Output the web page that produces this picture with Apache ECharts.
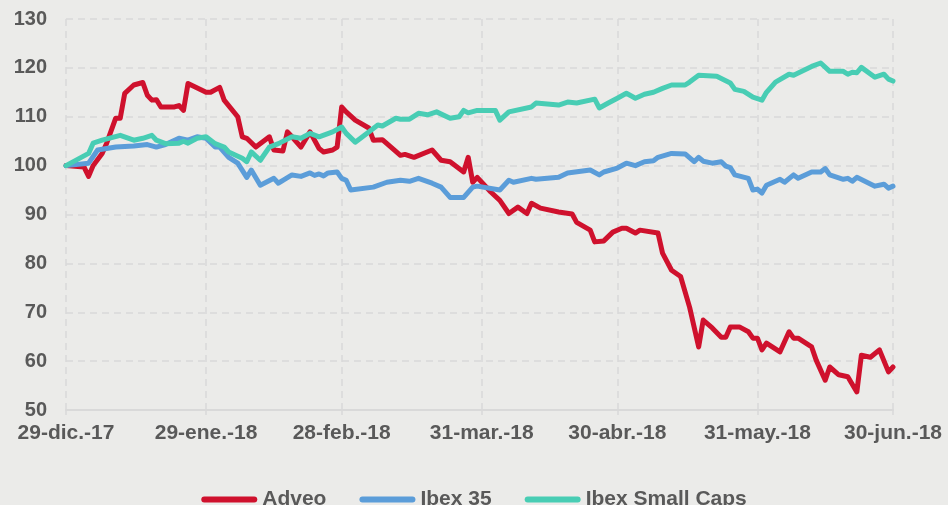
<!DOCTYPE html>
<html>
<head>
<meta charset="utf-8">
<script src="https://cdn.jsdelivr.net/npm/echarts@6/dist/echarts.min.js"></script>
<style>
  html, body { margin: 0; padding: 0; background: #ebebe9; }
  #main { width: 948px; height: 505px; }
</style>
</head>
<body>
<div id="main"></div>
<script>
  // días contados desde 29-dic.-17
  var totalDays = 183
  var tickDays = [0, 31, 61, 92, 122, 153, 183]
  var tickLabels = ['29-dic.-17', '29-ene.-18', '28-feb.-18', '31-mar.-18', '30-abr.-18', '31-may.-18', '30-jun.-18']

  var adveoDays = [0, 4, 5, 6, 8, 9, 11, 12, 13, 15, 17, 18, 19, 20, 21, 24, 25, 26, 27, 31, 32, 34, 35, 38, 39, 40, 42, 45, 46, 48, 49, 50, 52, 54, 56, 57, 59, 60, 61, 62, 64, 67, 68, 70, 74, 75, 77, 81, 83, 85, 88, 89, 90, 91, 94, 96, 98, 100, 102, 103, 105, 109, 112, 113, 116, 117, 119, 121, 123, 124, 126, 127, 131, 132, 134, 136, 138, 140, 141, 143, 145, 146, 147, 149, 151, 152, 153, 154, 155, 158, 160, 161, 162, 165, 166, 168, 169, 171, 173, 175, 176, 178, 180, 182, 183]
  var adveoValues = [100, 99.7, 97.8, 100, 102.5, 104.6, 109.7, 109.7, 114.8, 116.5, 117, 114.4, 113.4, 113.5, 112, 112, 112.3, 111.3, 116.8, 115, 115, 116, 113.4, 110, 105.9, 105.6, 103.8, 105.9, 103.2, 103, 106.9, 105.9, 103.8, 106.9, 103.5, 102.8, 103.2, 103.8, 112, 111, 109.3, 107.7, 105.2, 105.3, 102.1, 102.3, 101.7, 103.2, 101.1, 100.8, 98.7, 101.7, 96.6, 97.6, 94.6, 92.9, 90.2, 91.5, 90.2, 92.3, 91.3, 90.5, 90.1, 88.4, 86.8, 84.4, 84.6, 86.4, 87.2, 87.2, 86.2, 86.8, 86.2, 82.1, 78.6, 77.3, 71, 62.9, 68.4, 66.8, 64.9, 64.9, 67, 67, 66, 64.7, 64.7, 62.3, 63.7, 61.9, 66, 64.7, 64.7, 62.9, 60.2, 56.1, 58.8, 57.2, 56.8, 53.7, 61.2, 60.8, 62.3, 57.8, 58.8]

  var ibexDays = [0, 5, 7, 11, 15, 18, 20, 22, 25, 27, 29, 31, 33, 34, 36, 38, 40, 41, 43, 46, 47, 48, 50, 52, 54, 55, 56, 57, 58, 60, 61, 62, 63, 68, 71, 74, 76, 78, 81, 83, 85, 88, 90, 91, 96, 98, 99, 103, 104, 109, 111, 116, 118, 119, 122, 124, 126, 128, 130, 131, 134, 137, 139, 140, 141, 143, 145, 146, 147, 148, 151, 152, 153, 154, 155, 158, 159, 161, 162, 165, 167, 168, 169, 172, 173, 174, 175, 179, 181, 182, 183]
  var ibexValues = [100, 100.5, 103.2, 103.8, 104, 104.3, 103.8, 104.3, 105.6, 105.2, 105.9, 105.6, 103.8, 103.8, 101.7, 100.5, 97.6, 99.1, 96, 97.4, 96.4, 97, 98.1, 97.8, 98.5, 98, 98.3, 97.9, 98.5, 98.7, 97.4, 97, 95, 95.6, 96.6, 97, 96.8, 97.4, 96.4, 95.6, 93.5, 93.5, 95.6, 95.8, 95, 97, 96.6, 97.4, 97.2, 97.6, 98.5, 99.1, 98.1, 98.7, 99.5, 100.5, 100, 100.8, 101, 101.7, 102.5, 102.4, 100.8, 101.7, 100.9, 100.5, 100.8, 99.9, 99.6, 98.1, 97.4, 95, 95.2, 94.4, 96, 97.2, 96.6, 98.1, 97.4, 98.7, 98.7, 99.4, 98.1, 97.2, 97.4, 96.8, 97.6, 95.8, 96.2, 95.4, 95.8]

  var smallDays = [0, 5, 6, 8, 12, 15, 17, 19, 20, 22, 25, 26, 27, 29, 31, 33, 35, 36, 39, 40, 41, 43, 45, 47, 50, 52, 54, 56, 59, 61, 62, 64, 67, 69, 70, 73, 74, 76, 78, 80, 82, 85, 87, 88, 89, 91, 95, 96, 98, 103, 104, 109, 111, 113, 117, 118, 120, 122, 124, 126, 128, 130, 132, 134, 137, 138, 140, 144, 147, 148, 150, 152, 154, 155, 157, 160, 161, 165, 167, 169, 172, 173, 174, 175, 176, 179, 181, 182, 183]
  var smallValues = [100, 102.5, 104.6, 105.2, 106.2, 105.2, 105.6, 106.2, 105.2, 104.5, 104.6, 105, 104.6, 105.6, 105.9, 104.5, 103.8, 102.8, 101.5, 100.8, 102.8, 101.1, 103.8, 104.5, 105.9, 105.6, 106.6, 105.9, 106.9, 107.9, 106.6, 104.8, 106.9, 108.3, 108.1, 109.7, 109.5, 109.5, 110.7, 110.4, 111, 109.7, 110, 111.3, 110.8, 111.3, 111.3, 109.3, 111, 112, 112.8, 112.4, 113, 112.8, 113.6, 111.8, 112.8, 113.8, 114.8, 113.8, 114.6, 115, 115.8, 116.5, 116.5, 117.1, 118.5, 118.3, 116.9, 115.6, 115.2, 114, 113.4, 115, 117.1, 118.7, 118.5, 120.3, 121, 119.3, 119.3, 118.7, 119.1, 119, 120.1, 118.1, 118.7, 117.7, 117.3]

  var days = []
  for (var i = 0; i <= totalDays; i++) days.push(String(i))

  function pairs(d, v) {
    return d.map(function (x, i) { return [x, v[i]] })
  }
  function isTick(index) {
    return tickDays.indexOf(index) >= 0
  }

  var textColor = '#595959'
  var gridColor = '#d9d9d9'
  var font = 'Liberation Sans, Arial, sans-serif'
  var capsule = 'path://M3,0 L53,0 A3,3 0 0 1 53,6 L3,6 A3,3 0 0 1 3,0 Z'

  var chart = echarts.init(document.getElementById('main'))
  chart.setOption({
    animation: false,
    backgroundColor: '#ebebe9',
    grid: { left: 66, right: 55, top: 19, bottom: 95 },
    legend: {
      top: 484,
      left: 'center',
      itemWidth: 56,
      itemHeight: 6,
      itemGap: 33,
      icon: capsule,
      textStyle: { fontSize: 21, fontWeight: 'bold', color: textColor, fontFamily: font },
      data: ['Adveo', 'Ibex 35', 'Ibex Small Caps']
    },
    xAxis: {
      type: 'category',
      boundaryGap: false,
      data: days,
      axisLine: { lineStyle: { color: gridColor, width: 2 } },
      axisTick: { interval: isTick, length: 5, lineStyle: { color: gridColor, width: 1.5 } },
      axisLabel: {
        interval: isTick,
        margin: 13,
        fontSize: 21,
        fontWeight: 'bold',
        color: textColor,
        fontFamily: font,
        formatter: function (value) {
          return tickLabels[tickDays.indexOf(Number(value))]
        }
      },
      splitLine: { show: true, interval: isTick, lineStyle: { type: [7, 5], color: gridColor, width: 1.5 } }
    },
    yAxis: {
      type: 'value',
      min: 50,
      max: 130,
      interval: 10,
      axisLine: { show: false },
      axisTick: { show: false },
      axisLabel: { margin: 19, fontSize: 20, fontWeight: 'bold', color: textColor, fontFamily: font },
      splitLine: { lineStyle: { type: [7, 5], color: gridColor, width: 1.5 } }
    },
    series: [
      {
        name: 'Adveo',
        type: 'line',
        symbol: 'none',
        color: '#cf112d',
        lineStyle: { width: 5, cap: 'round', join: 'round' },
        data: pairs(adveoDays, adveoValues)
      },
      {
        name: 'Ibex 35',
        type: 'line',
        symbol: 'none',
        color: '#5b9dd9',
        lineStyle: { width: 5, cap: 'round', join: 'round' },
        data: pairs(ibexDays, ibexValues)
      },
      {
        name: 'Ibex Small Caps',
        type: 'line',
        symbol: 'none',
        color: '#48cdb4',
        lineStyle: { width: 5, cap: 'round', join: 'round' },
        data: pairs(smallDays, smallValues)
      }
    ]
  })
</script>
</body>
</html>
